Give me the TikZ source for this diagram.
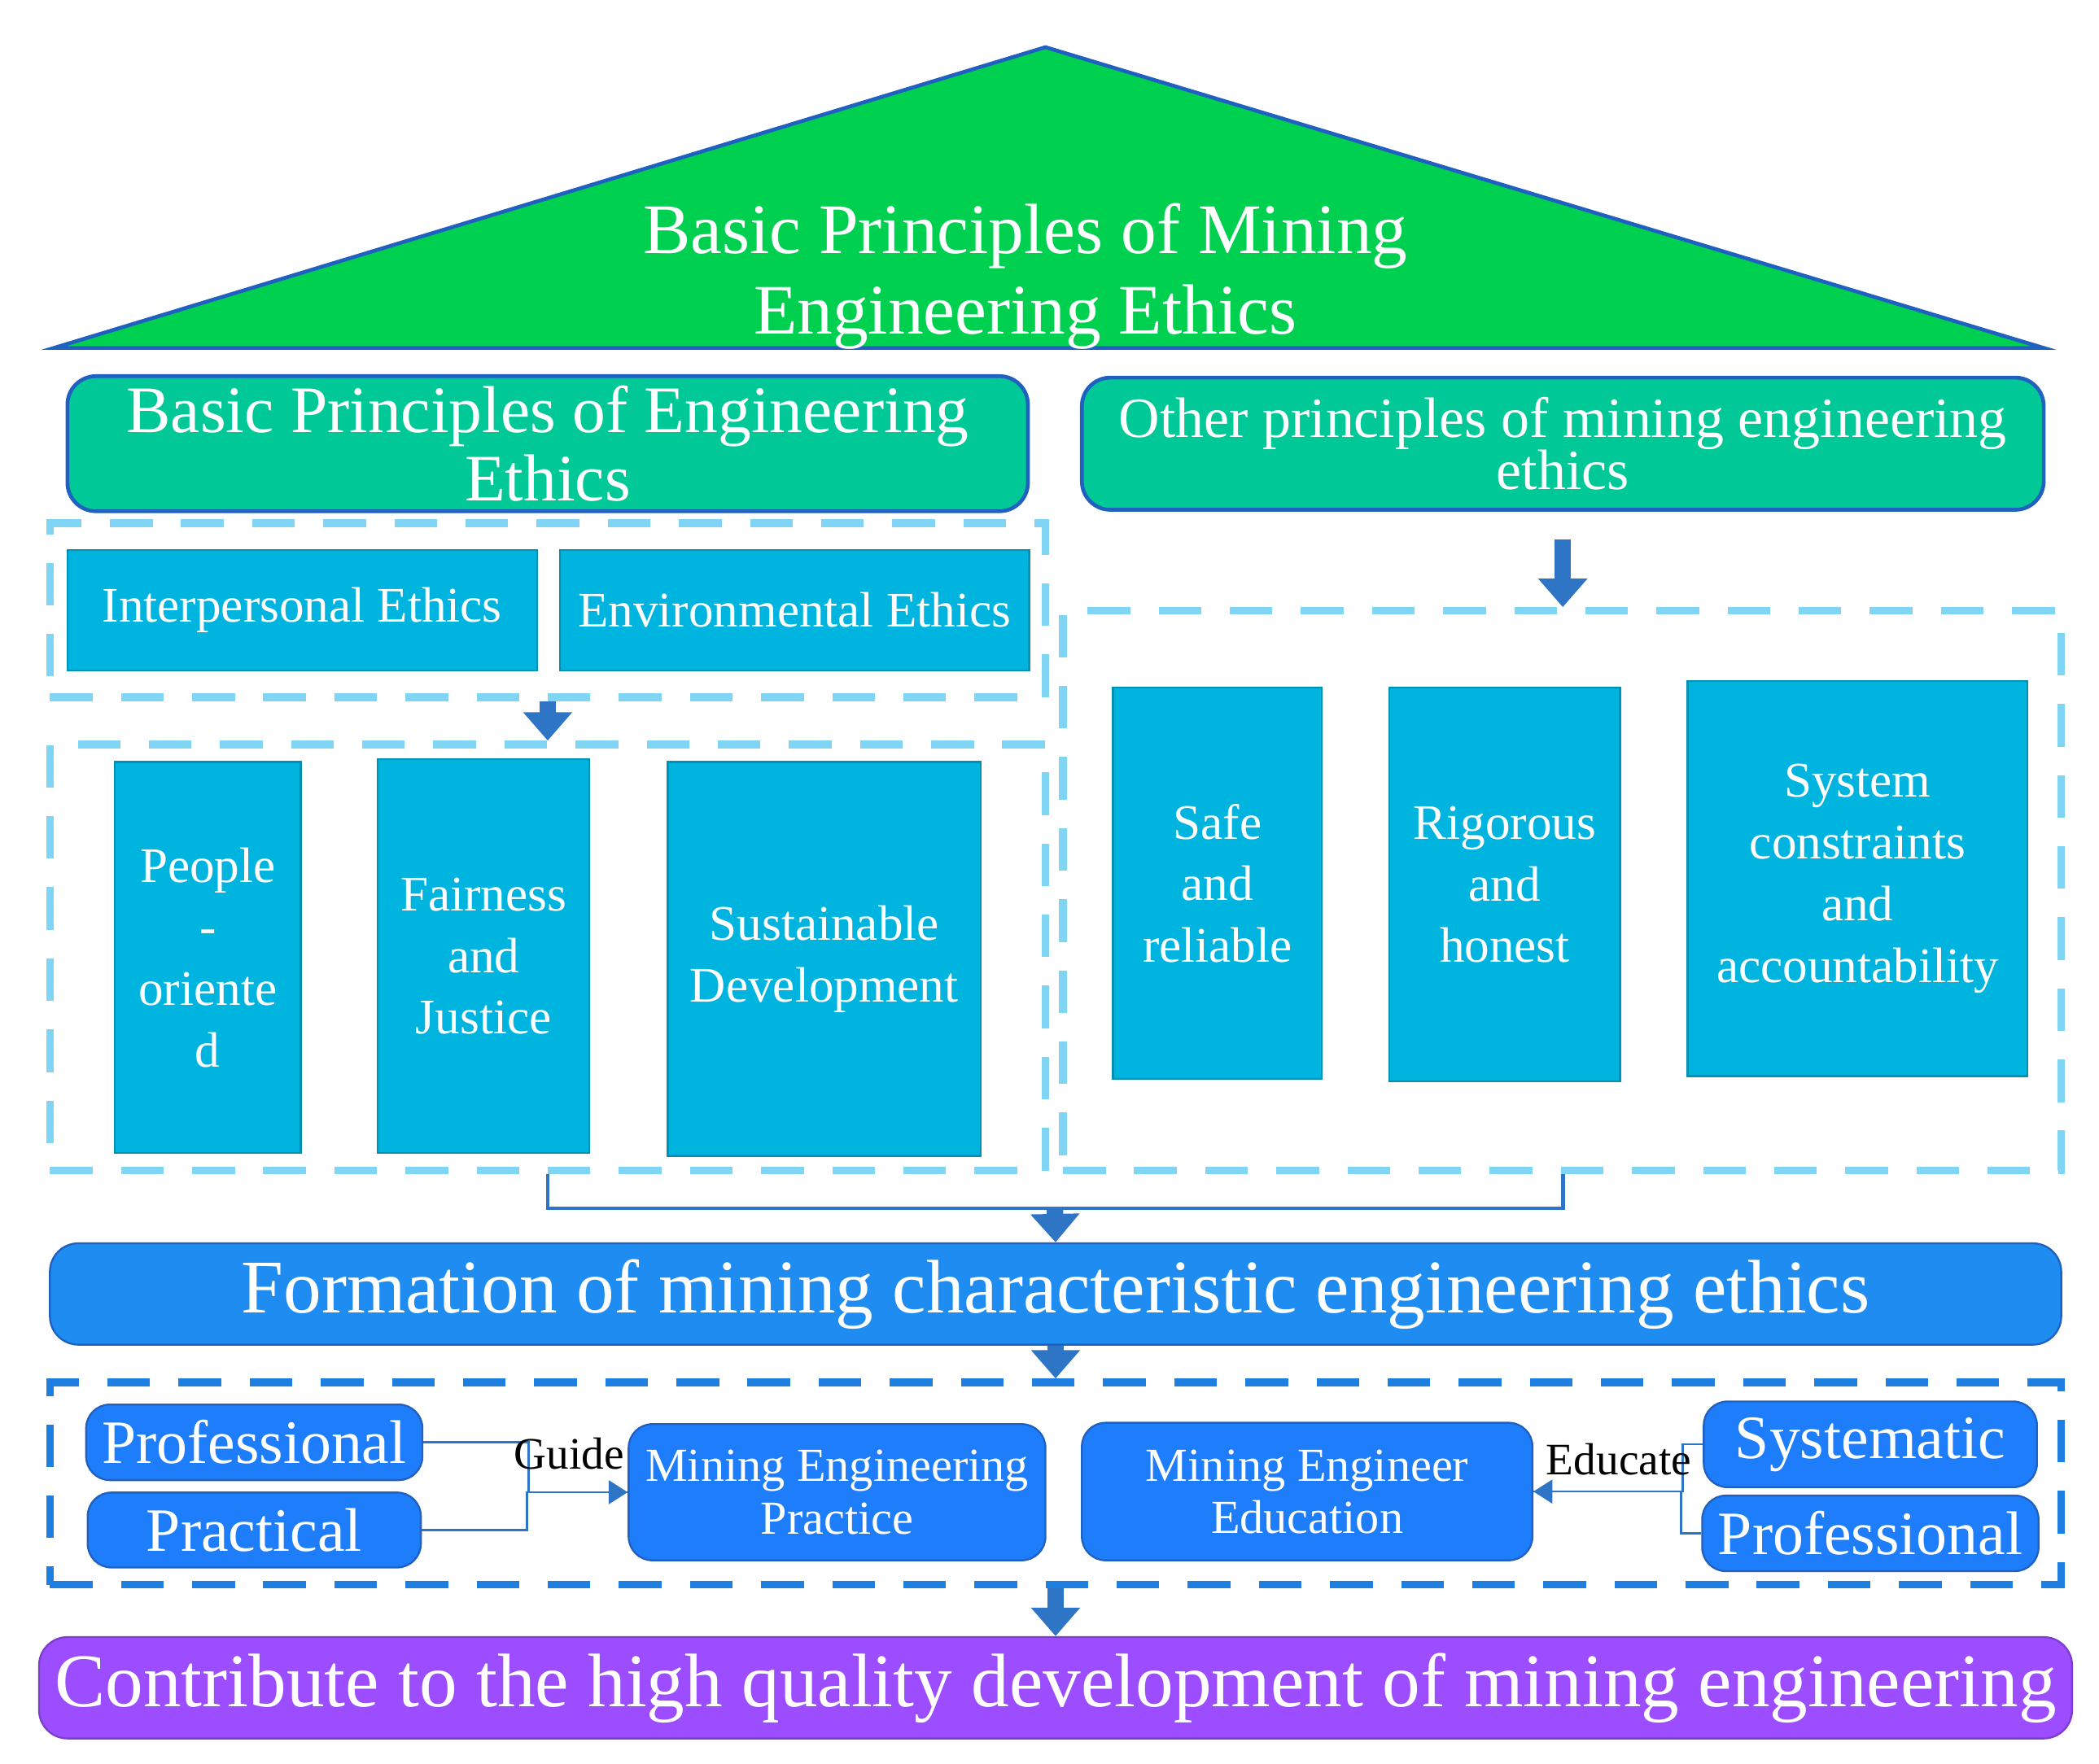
\documentclass[tikz,border=0pt]{standalone}
\usepackage{fontspec}
\setmainfont{Liberation Serif}
\usetikzlibrary{arrows.meta,positioning,calc}
\definecolor{roofgreen}{HTML}{00D050}
\definecolor{headteal}{HTML}{00C896}
\definecolor{cellcyan}{HTML}{00B4E0}
\definecolor{barblue}{HTML}{1E8CF0}
\definecolor{keyblue}{HTML}{1E7DFA}
\definecolor{edgeblue}{HTML}{2060C0}
\definecolor{dashcyan}{HTML}{80D4F4}
\definecolor{dashblue}{HTML}{1E7FE0}
\definecolor{arrowblue}{HTML}{2E75C6}
\definecolor{barpurple}{HTML}{9B4DFF}
\tikzset{
    head/.style={
           rectangle,
           rounded corners=6pt,
           fill=headteal,
           draw=edgeblue, thick,
           text=white,
           align=center,
           inner sep=2pt,
           },
    cell/.style={
           rectangle,
           fill=cellcyan,
           draw=cellcyan!80!black,
           text=white,
           align=center,
           font=\fontsize{10.5}{13}\selectfont,
           },
    frame/.style={
           rectangle,
           draw=dashcyan,
           line width=1.6pt,
           dash pattern=on 9pt off 6pt,
           },
    key/.style={
           rectangle,
           rounded corners=5pt,
           fill=keyblue,
           draw=edgeblue,
           text=white,
           align=center,
           },
    bar/.style={
           rectangle,
           rounded corners=6pt,
           draw=edgeblue,
           text=white,
           font=\fontsize{16}{19}\selectfont,
           },
    down/.style={
           line width=3.5pt, draw=arrowblue,
           -{Triangle[length=6pt,width=10pt]},
           },
}
\begin{document}
\begin{tikzpicture}
 \useasboundingbox (0,0) rectangle (15.56,-13.08);

 % roof
 \fill[roofgreen, draw=edgeblue, thick] (0.40,-2.58) -- (7.75,-0.35) -- (15.15,-2.58) -- cycle;
 \node[text=white, align=center, font=\fontsize{15}{17}\selectfont] (roof)
  at (7.60,-2.05) {Basic Principles of Mining\\Engineering Ethics};

 % headers
 \node[head, minimum width=7.12cm, minimum height=0.98cm,
  font=\fontsize{14}{14.5}\selectfont] (basic) at (4.06,-3.29)
  {Basic Principles of Engineering\\Ethics};
 \node[head, minimum width=7.13cm, minimum height=0.98cm,
  font=\fontsize{12}{11}\selectfont] (other) at (11.585,-3.29)
  {Other principles of mining engineering\\ethics};

 % left frames
 \node[frame, minimum width=7.38cm, minimum height=1.29cm] (top) at (4.06,-4.525) {};
 \node[cell, minimum width=3.48cm, minimum height=0.89cm] (inter) at (2.24,-4.525) {Interpersonal Ethics};
 \node[cell, minimum width=3.48cm, minimum height=0.89cm] (env) at (5.89,-4.525) {Environmental Ethics};

 \node[frame, minimum width=7.38cm, minimum height=3.16cm] (lower) at (4.06,-7.10) {};
 \node[cell, minimum width=1.38cm, minimum height=2.90cm] (people) at (1.54,-7.10) {People\\-\\oriente\\d};
 \node[cell, minimum width=1.57cm, minimum height=2.92cm] (fair) at (3.585,-7.09) {Fairness\\and\\Justice};
 \node[cell, minimum width=2.32cm, minimum height=2.92cm] (sust) at (6.11,-7.11) {Sustainable\\Development};

 % right frame
 \node[frame, minimum width=7.40cm, minimum height=4.15cm] (right) at (11.58,-6.605) {};
 \node[cell, minimum width=1.55cm, minimum height=2.90cm] (safe) at (9.025,-6.55) {Safe\\and\\reliable};
 \node[cell, minimum width=1.71cm, minimum height=2.92cm] (rig) at (11.155,-6.56) {Rigorous\\and\\honest};
 \node[cell, minimum width=2.52cm, minimum height=2.93cm] (sys) at (13.77,-6.515) {System\\constraints\\and\\accountability};

 \draw[down] (top.south) -- (lower.north);
 \draw[down] (other.south |- 0,-4.00) -- (right.north -| other.south);

 % formation
 \node[bar, fill=barblue, minimum width=14.91cm, minimum height=0.75cm] (form) at (7.825,-9.595)
  {Formation of mining characteristic engineering ethics};
 \coordinate (join) at (7.82,-8.96);
 \draw[arrowblue, thick] (lower.south) |- (join) -| (right.south -| other.south);
 \draw[down] (join) -- (form.north);

 % practice frame
 \node[frame, draw=dashblue, minimum width=14.91cm, minimum height=1.50cm] (prac) at (7.825,-11.00) {};
 \draw[down] (form.south) -- (prac.north);
 \node[key, minimum width=2.47cm, minimum height=0.55cm, font=\fontsize{13}{14}\selectfont] (prof) at (1.885,-10.695) {Professional};
 \node[key, minimum width=2.47cm, minimum height=0.55cm, font=\fontsize{13}{14}\selectfont] (pract) at (1.885,-11.345) {Practical};
 \node[key, minimum width=3.09cm, minimum height=1.01cm, font=\fontsize{10}{11}\selectfont] (mep) at (6.205,-11.065) {Mining Engineering\\Practice};
 \node[key, minimum width=3.34cm, minimum height=1.02cm, font=\fontsize{10}{11}\selectfont] (mee) at (9.69,-11.06) {Mining Engineer\\Education};
 \node[key, minimum width=2.47cm, minimum height=0.54cm, font=\fontsize{13}{14}\selectfont] (syst) at (13.865,-10.71) {Systematic};
 \node[key, minimum width=2.47cm, minimum height=0.54cm, font=\fontsize{13}{14}\selectfont] (prof2) at (13.865,-11.37) {Professional};

 \draw[arrowblue, -{Triangle[length=4pt,width=5pt]}] (prof.east) -- ++(0.78,0) |- (mep.west);
 \draw[arrowblue] (pract.east) -- ++(0.78,0) |- (mep.west);
 \node[font=\fontsize{9.5}{11}\selectfont] (guide) at (4.22,-10.78) {Guide};
 \draw[arrowblue, -{Triangle[length=4pt,width=5pt]}] (syst.west) -- ++(-0.15,0) |- (mee.east);
 \draw[arrowblue] (prof2.west) -- ++(-0.15,0) |- (mee.east);
 \node[font=\fontsize{9.5}{11}\selectfont] (educ) at (12.00,-10.82) {Educate};

 % contribution
 \node[bar, fill=barpurple, draw=barpurple!80!black, minimum width=14.91cm, minimum height=0.73cm] (goal) at (7.825,-12.515)
  {Contribute to the high quality development of mining engineering};
 \draw[down] (prac.south) -- (goal.north);
\end{tikzpicture}
\end{document}
